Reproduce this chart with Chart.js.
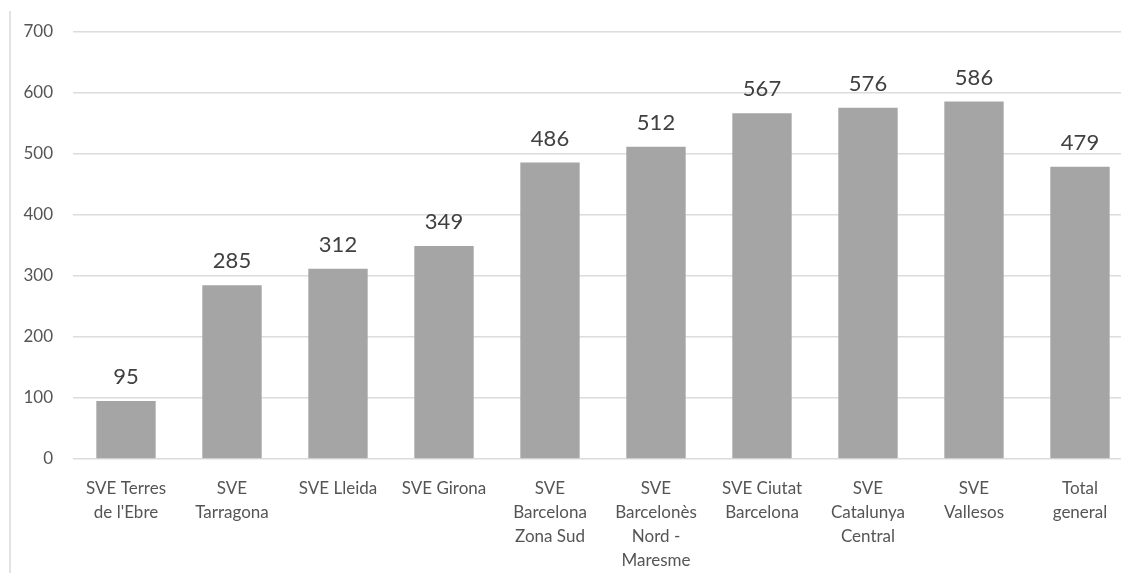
<!DOCTYPE html>
<html>
<head>
<meta charset="utf-8">
<script src="https://cdn.jsdelivr.net/npm/chart.js@4"></script>
<style>
    html, body { margin: 0; padding: 0; overflow: hidden; background: #fff; }
    #wrap { position: relative; width: 1133px; height: 573px; }
    #frame { position: absolute; left: 9px; top: 11px; bottom: 0; width: 2px; background: #e3e3e3; }
</style>
</head>
<body>
<div id="wrap">
    <div id="frame"></div>
    <canvas id="barChart" width="1133" height="573"></canvas>
</div>
<script>
// Categories (multi-line tick labels) and values per service
const labels = [
    ['SVE Terres', "de l'Ebre"],
    ['SVE', 'Tarragona'],
    ['SVE Lleida'],
    ['SVE Girona'],
    ['SVE', 'Barcelona', 'Zona Sud'],
    ['SVE', 'Barcelonès', 'Nord -', 'Maresme'],
    ['SVE Ciutat', 'Barcelona'],
    ['SVE', 'Catalunya', 'Central'],
    ['SVE', 'Vallesos'],
    ['Total', 'general']
];
const values = [95, 285, 312, 349, 486, 512, 567, 576, 586, 479];
const yTicks = [0, 100, 200, 300, 400, 500, 600, 700];

const FONT = 'Lato, "Open Sans", sans-serif';

// value printed above each bar
const valueLabels = {
    id: 'valueLabels',
    afterDatasetsDraw(chart) {
        const ctx = chart.ctx;
        const meta = chart.getDatasetMeta(0);
        ctx.save();
        ctx.font = '22px ' + FONT;
        ctx.fillStyle = '#404040';
        ctx.textAlign = 'center';
        ctx.textBaseline = 'middle';
        meta.data.forEach((bar, i) => {
            ctx.fillText(values[i], bar.x, bar.y - 24);
        });
        ctx.restore();
    }
};

new Chart(document.getElementById('barChart'), {
    type: 'bar',
    data: {
        labels: labels,
        datasets: [{
            data: values,
            backgroundColor: '#a5a5a5',
            categoryPercentage: 1,
            barPercentage: 0.56
        }]
    },
    options: {
        responsive: false,
        animation: false,
        layout: { padding: { top: 32, right: 0, bottom: 0, left: 0 } },
        plugins: {
            legend: { display: false },
            tooltip: { enabled: false }
        },
        scales: {
            x: {
                grid: { display: false },
                border: { display: false },
                ticks: {
                    color: '#555555',
                    font: { family: FONT, size: 17, lineHeight: 1.42 },
                    padding: 9,
                    maxRotation: 0,
                    autoSkip: false
                },
                afterFit(scale) { scale.height = 114; }
            },
            y: {
                min: 0,
                max: 700,
                afterBuildTicks(scale) { scale.ticks = yTicks.map(v => ({ value: v })); },
                grid: { color: '#dcdcdc', lineWidth: 1.5, drawTicks: false },
                border: { display: false },
                ticks: {
                    color: '#555555',
                    font: { family: FONT, size: 17 },
                    padding: 20
                },
                afterFit(scale) { scale.width = 73; }
            }
        }
    },
    plugins: [valueLabels]
});
</script>
</body>
</html>
